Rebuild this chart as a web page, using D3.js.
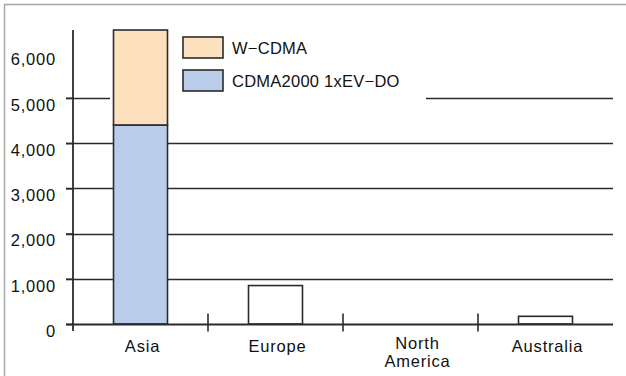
<!DOCTYPE html>
<html>
<head>
<meta charset="utf-8">
<script src="https://cdn.jsdelivr.net/npm/d3@7/dist/d3.min.js"></script>
<style>
  html, body { margin: 0; padding: 0; background: #fff; }
  svg { display: block; }
  text { font-family: "Liberation Sans", Arial, sans-serif; fill: #111; }
</style>
</head>
<body>
<svg id="chart" width="626" height="376"></svg>
<script>
// Subscriber counts (thousands) by region
const categories = ["Asia", "Europe", "North America", "Australia"];
const seriesNames = ["CDMA2000 1xEV-DO", "W-CDMA"];
const cdma2000 = [4400, 0, 0, 0];
const wcdma = [2100, 850, 0, 170];
const shadedCategories = ["Asia"];
const yTicks = [0, 1000, 2000, 3000, 4000, 5000, 6000];
const gridTicks = [1000, 2000, 3000, 4000, 5000];

const seriesColors = { "CDMA2000 1xEV-DO": "#b9cdea", "W-CDMA": "#fde0be" };
const ink = "#2b2b2b";

const svg = d3.select("#chart");
const margin = { left: 73, right: 13, top: 30, bottom: 52 };
const W = 626, H = 376;

// Frame lines (top and left edges)
svg.append("line").attr("x1", 4).attr("x2", W).attr("y1", 4.5).attr("y2", 4.5)
  .attr("stroke", "#a8a8a8").attr("stroke-width", 1.5);
svg.append("line").attr("x1", 4.5).attr("x2", 4.5).attr("y1", 4).attr("y2", H)
  .attr("stroke", "#a8a8a8").attr("stroke-width", 1.5);

const x = d3.scaleBand().domain(categories)
  .range([margin.left, W - margin.right]).paddingInner(0).paddingOuter(0);
const y = d3.scaleLinear().domain([0, 6500]).range([H - margin.bottom, margin.top]);

const rows = categories.map((c, i) => ({ category: c, "CDMA2000 1xEV-DO": cdma2000[i], "W-CDMA": wcdma[i] }));
const stacked = d3.stack().keys(seriesNames)(rows);

// Horizontal grid lines; the 5,000 line is broken around the bar and legend
const gridG = svg.append("g");
gridTicks.forEach(t => {
  const yy = Math.round(y(t)) + 0.5;
  if (t === 5000) {
    gridG.append("line").attr("x1", margin.left - 7).attr("x2", 110).attr("y1", yy).attr("y2", yy)
      .attr("stroke", ink).attr("stroke-width", 1.6);
    gridG.append("line").attr("x1", 426).attr("x2", W - margin.right).attr("y1", yy).attr("y2", yy)
      .attr("stroke", ink).attr("stroke-width", 1.6);
  } else {
    gridG.append("line").attr("x1", margin.left - 7).attr("x2", W - margin.right).attr("y1", yy).attr("y2", yy)
      .attr("stroke", ink).attr("stroke-width", 1.6);
  }
});

// Stacked bars
const barW = x.bandwidth() * 0.4;
const barsG = svg.append("g");
stacked.forEach(layer => {
  layer.forEach((d, i) => {
    const cat = categories[i];
    const v = d[1] - d[0];
    if (v <= 0) return;
    const fill = shadedCategories.includes(cat) ? seriesColors[layer.key] : "#fff";
    barsG.append("rect")
      .attr("x", x(cat) + (x.bandwidth() - barW) / 2)
      .attr("y", y(d[1]))
      .attr("width", barW)
      .attr("height", y(d[0]) - y(d[1]))
      .attr("fill", fill)
      .attr("stroke", ink)
      .attr("stroke-width", 1.6);
  });
});

// Y axis
const yAxis = d3.axisLeft(y).tickValues(yTicks).tickSize(7).tickPadding(10)
  .tickFormat(d3.format(","));
const yG = svg.append("g").attr("transform", `translate(${margin.left},0)`).call(yAxis);
yG.select(".domain").remove();
yG.selectAll(".tick line").attr("stroke", ink).attr("stroke-width", 1.6)
  .filter(d => d === 6000).remove();
yG.selectAll(".tick text").attr("font-size", 16.5).attr("dy", "0.75em")
  .attr("letter-spacing", 0.8)
  .attr("font-family", "Liberation Sans, Arial, sans-serif").attr("fill", "#111");
svg.append("line").attr("x1", margin.left).attr("x2", margin.left)
  .attr("y1", y(6500)).attr("y2", y(0) + 7)
  .attr("stroke", ink).attr("stroke-width", 1.8);

// X axis baseline with boundary ticks between categories
const y0 = Math.round(y(0)) + 0.5;
svg.append("line").attr("x1", margin.left - 7).attr("x2", W - margin.right)
  .attr("y1", y0).attr("y2", y0).attr("stroke", ink).attr("stroke-width", 1.8);
categories.slice(1).forEach(c => {
  svg.append("line").attr("x1", x(c)).attr("x2", x(c))
    .attr("y1", y0 - 11).attr("y2", y0 + 7).attr("stroke", ink).attr("stroke-width", 1.6);
});

// Category labels
const labelG = svg.append("g");
categories.forEach(c => {
  const words = c.split(" ");
  const cx = x(c) + x.bandwidth() / 2 + (words.length > 1 ? 7 : 2);
  const t = labelG.append("text")
    .attr("y", words.length > 1 ? 349 : 352)
    .attr("text-anchor", "middle")
    .attr("font-size", 16.5)
    .attr("letter-spacing", 0.8);
  words.forEach((w, j) => {
    t.append("tspan").attr("x", cx).attr("dy", j === 0 ? 0 : 18).text(w);
  });
});

// Legend
const legendItems = ["W-CDMA", "CDMA2000 1xEV-DO"];
const legG = svg.append("g");
legendItems.forEach((name, i) => {
  const ly = 37 + i * 33;
  legG.append("rect").attr("x", 183).attr("y", ly).attr("width", 40).attr("height", 21)
    .attr("fill", seriesColors[name]).attr("stroke", ink).attr("stroke-width", 1.6);
  legG.append("text").attr("x", 232).attr("y", ly + 17).attr("font-size", 16.5)
    .attr("letter-spacing", 0.25)
    .text(name.replace("-", "\u2212"));
});
</script>
</body>
</html>
